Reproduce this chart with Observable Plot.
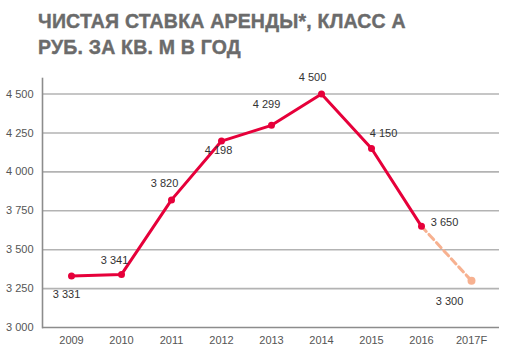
<!DOCTYPE html>
<html><head><meta charset="utf-8">
<script src="https://cdn.jsdelivr.net/npm/d3@7"></script>
<script src="https://cdn.jsdelivr.net/npm/@observablehq/plot@0.6"></script>
<style>
body{margin:0;background:#fff;font-family:"Liberation Sans",Arial,sans-serif;}
#title{position:absolute;left:38px;top:8px;font-weight:bold;font-size:19.5px;line-height:26px;color:#6b6b6b;letter-spacing:0.2px;-webkit-text-stroke:0.4px #6b6b6b;}
#chart{position:absolute;left:0;top:60px;}
</style></head>
<body>
<div id="title">ЧИСТАЯ СТАВКА АРЕНДЫ*, КЛАСС А<br>РУБ. ЗА КВ. М В ГОД</div>
<div id="chart"></div>
<script>
const years = ["2009","2010","2011","2012","2013","2014","2015","2016","2017F"];
const actual = [3331, 3341, 3820, 4198, 4299, 4500, 4150, 3650, null];
const forecast = [null, null, null, null, null, null, null, 3650, 3300];
const labels = ["3 331","3 341","3 820","4 198","4 299","4 500","4 150","3 650","3 300"];
const yTicks = [3000, 3250, 3500, 3750, 4000, 4250, 4500];

const fmt = d3.formatLocale({thousands: " ", grouping: [3], decimal: ","}).format(",");

const actData = years.map((y, i) => ({year: y, v: actual[i]})).filter(d => d.v != null);
const fcData = years.map((y, i) => ({year: y, v: forecast[i]})).filter(d => d.v != null);
const lblData = years.map((y, i) => ({year: y, v: actual[i] ?? forecast[i], label: labels[i], i}));

// label offsets (layout, not data)
const off = [[-5,18],[-7,-14],[-7,-16],[-3,9],[-5,-21],[-9,-17],[12,-15],[23,-4],[-22,21]];

const chart = Plot.plot({
  width: 507, height: 292,
  marginTop: 18, marginBottom: 25, marginLeft: 42, marginRight: 8,
  style: {fontFamily: '"Liberation Sans", Arial, sans-serif', fontSize: "11px", color: "#555", background: "#fff"},
  x: {type: "band", domain: years, padding: 0, label: null},
  y: {domain: [3000, 4600], label: null},
  marks: [
    Plot.ruleY(yTicks.slice(1), {stroke: "#b3b3b3", strokeWidth: 1.6}),
    Plot.ruleY([3000], {stroke: "#8c8c8c", strokeWidth: 1.6}),
    Plot.frame({anchor: "left", stroke: "#8c8c8c", strokeWidth: 1.6}),
    Plot.axisY({ticks: yTicks, tickSize: 0, tickPadding: 9, tickFormat: fmt, fill: "#555", fontSize: 11}),
    Plot.axisX({tickSize: 0, tickPadding: 9, fill: "#555", fontSize: 11}),
    Plot.line(fcData, {x: "year", y: "v", stroke: "#f7b190", strokeWidth: 3, strokeDasharray: "7,4"}),
    Plot.dot(fcData.slice(1), {x: "year", y: "v", r: 4, fill: "#f7b190"}),
    Plot.line(actData, {x: "year", y: "v", stroke: "#e6003a", strokeWidth: 3}),
    Plot.dot(actData, {x: "year", y: "v", r: 3.5, fill: "#e6003a"}),
    ...lblData.map(d => Plot.text([d], {x: "year", y: "v", text: "label", dx: off[d.i][0], dy: off[d.i][1], fill: "#333", fontSize: 11}))
  ]
});
document.getElementById("chart").appendChild(chart);
</script>
</body></html>
